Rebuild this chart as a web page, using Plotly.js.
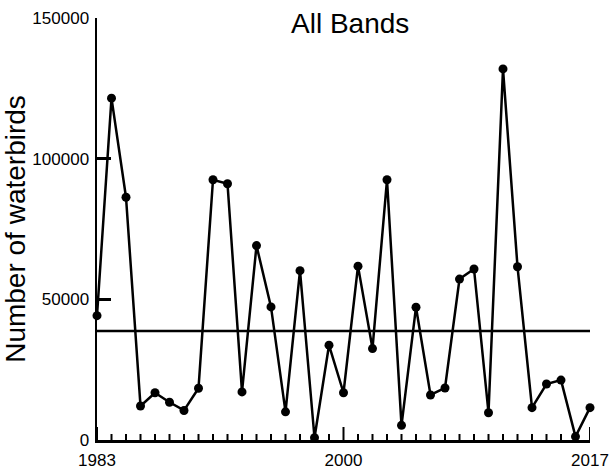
<!DOCTYPE html>
<html>
<head>
<meta charset="utf-8">
<script src="https://cdn.plot.ly/plotly-3.0.1.min.js"></script>
<style>html,body{margin:0;padding:0;background:#fff}#chart{width:610px;height:474px}</style>
</head>
<body>
<div id="chart"></div>
<script>
const years = [1983,1984,1985,1986,1987,1988,1989,1990,1991,1992,1993,1994,1995,1996,1997,1998,1999,2000,2001,2002,2003,2004,2005,2006,2007,2008,2009,2010,2011,2012,2013,2014,2015,2016,2017];
const waterbirds = [44200,121500,86300,12100,16800,13400,10500,18400,92500,91100,17100,69100,47300,10000,60200,800,33700,16800,61800,32500,92500,5200,47200,16000,18500,57200,60800,9700,131900,61600,11500,19900,21300,1200,11500];
const referenceLevel = 38700;
const xTickVals = [1983, 2000, 2017];
const yTickVals = [0, 50000, 100000, 150000];
const yTickText = ["0", "50000", "100000", "150000"];

const FONT = "'Liberation Sans', Arial, sans-serif";
const Y_MAX = 150000;
const PLOT_H = 474 - 18 - 34;
const pxToY = px => px * Y_MAX / PLOT_H;

// x-axis tick marks (inside, pointing up): long at labelled years, short elsewhere
const tickX = [], tickY = [];
years.forEach(yr => {
  tickX.push(yr, yr, null);
  tickY.push(0, pxToY(xTickVals.includes(yr) ? 13 : 6), null);
});

const traces = [
  {
    x: tickX, y: tickY,
    mode: 'lines',
    line: {color: '#000', width: 2},
    hoverinfo: 'skip',
    connectgaps: false,
    cliponaxis: false
  },
  {
    x: [years[0], years[years.length-1]],
    y: [referenceLevel, referenceLevel],
    mode: 'lines',
    line: {color: '#000', width: 2.5},
    hoverinfo: 'skip',
    cliponaxis: false
  },
  {
    x: years,
    y: waterbirds,
    mode: 'lines+markers',
    line: {color: '#000', width: 2.5},
    marker: {color: '#000', size: 9},
    cliponaxis: false
  }
];

const layout = {
  width: 610, height: 474,
  margin: {l: 97, r: 20, t: 18, b: 34},
  paper_bgcolor: '#fff', plot_bgcolor: '#fff',
  showlegend: false,
  font: {family: FONT, color: '#000', size: 17},
  title: {
    text: 'All Bands',
    font: {family: FONT, size: 28, color: '#000'},
    x: 0.574, xref: 'container', xanchor: 'center',
    y: 0.952, yref: 'container', yanchor: 'middle'
  },
  xaxis: {
    range: [1983, 2017],
    tickmode: 'array',
    tickvals: xTickVals,
    ticktext: xTickVals.map(String),
    ticks: '',
    showline: true, linecolor: '#000', linewidth: 2.5,
    showgrid: false, zeroline: false,
    tickfont: {family: FONT, size: 17, color: '#000'},
    ticklabelstandoff: 3,
    fixedrange: true
  },
  yaxis: {
    range: [0, Y_MAX],
    tickvals: yTickVals,
    ticktext: yTickText,
    ticks: 'inside', ticklen: 14, tickwidth: 2.5, tickcolor: '#000',
    showline: true, linecolor: '#000', linewidth: 2.5,
    showgrid: false, zeroline: false,
    tickfont: {family: FONT, size: 17, color: '#000'},
    ticklabelstandoff: 2,
    title: {text: 'Number of waterbirds', font: {family: FONT, size: 28, color: '#000'}, standoff: 3},
    fixedrange: true
  }
};

Plotly.newPlot('chart', traces, layout, {displayModeBar: false, staticPlot: true});
</script>
</body>
</html>
